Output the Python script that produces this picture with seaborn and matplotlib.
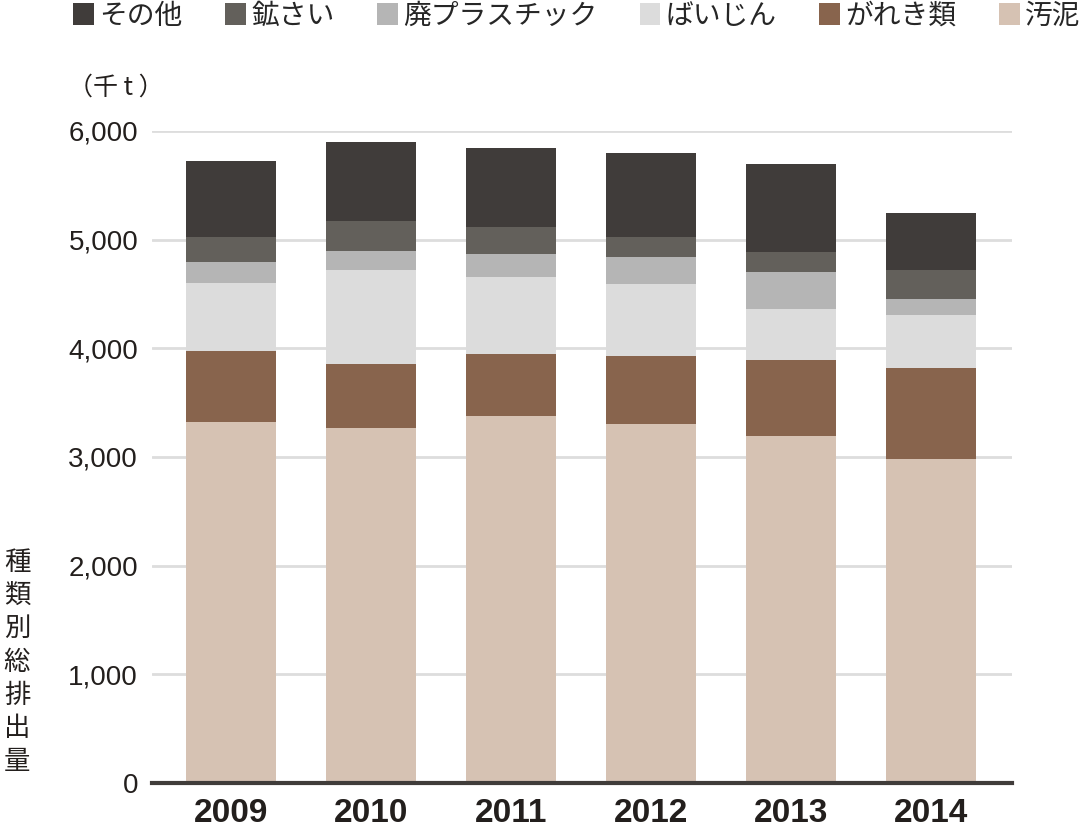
import matplotlib
matplotlib.use("Agg")
import matplotlib.pyplot as plt
from matplotlib.patches import Patch
import seaborn as sns
import pandas as pd
import numpy as np
from matplotlib import font_manager

years = ["2009", "2010", "2011", "2012", "2013", "2014"]
categories = ["その他", "鉱さい", "廃プラスチック", "ばいじん", "がれき類", "汚泥"]
sludge = [3318, 3266, 3376, 3300, 3189, 2978]      # 汚泥
rubble = [656, 586, 573, 628, 705, 840]            # がれき類
ash = [626, 867, 706, 663, 464, 487]               # ばいじん
plastic = [196, 178, 209, 251, 340, 150]           # 廃プラスチック
slag = [233, 276, 254, 187, 187, 264]              # 鉱さい
other = [696, 730, 730, 764, 809, 531]             # その他
yticks = [0, 1000, 2000, 3000, 4000, 5000, 6000]
ytick_labels = ["0", "1,000", "2,000", "3,000", "4,000", "5,000", "6,000"]

colors = {
    "その他": "#403c3a",
    "鉱さい": "#63605b",
    "廃プラスチック": "#b5b5b5",
    "ばいじん": "#dcdcdc",
    "がれき類": "#88644d",
    "汚泥": "#d6c2b3",
}

sns.set_theme(style="white")
names = {f.name for f in font_manager.fontManager.ttflist}
narrow = "Liberation Sans Narrow" if "Liberation Sans Narrow" in names else "Liberation Sans"
jp = ["Noto Sans CJK JP", "DejaVu Sans"]
plt.rcParams["font.family"] = jp

fig = plt.figure(figsize=(10.83, 8.31), dpi=100)
ax = fig.add_axes([152 / 1083, (831 - 783) / 831, 860 / 1083, (783 - 131) / 831])

# stacked order bottom -> top
layers = [("汚泥", sludge), ("がれき類", rubble), ("ばいじん", ash),
          ("廃プラスチック", plastic), ("鉱さい", slag), ("その他", other)]
cum = np.zeros(len(years))
cums = []
for name, vals in layers:
    cum = cum + np.array(vals)
    cums.append((name, cum.copy()))

# draw from tallest to shortest so each layer shows
for name, tot in reversed(cums):
    df = pd.DataFrame({"year": years, "value": tot})
    sns.barplot(data=df, x="year", y="value", color=colors[name], width=0.643,
                linewidth=0, saturation=1, ax=ax, zorder=3)

ax.set_xlim(-0.564, 5.579)
ax.set_ylim(0, 6000)
ax.set_yticks(yticks)
ax.set_yticklabels(ytick_labels, fontfamily=narrow, fontsize=20, color="#231f1d")
ax.grid(axis="y", color="#dddddd", linewidth=2, zorder=0)
ax.grid(axis="x", visible=False)
ax.set_axisbelow(True)
for t in ax.get_xticklabels():
    t.set_fontfamily(narrow)
    t.set_fontweight("bold")
    t.set_fontsize(24)
    t.set_color("#231f1d")
ax.tick_params(axis="y", length=0, pad=10)
ax.tick_params(axis="x", length=0, pad=11)
ax.set_xlabel("")
ax.set_ylabel("")
for s in ["top", "right", "left"]:
    ax.spines[s].set_visible(False)
ax.spines["bottom"].set_color("#403c3a")
ax.spines["bottom"].set_linewidth(3)
ax.spines["bottom"].set_zorder(5)

handles = [Patch(facecolor=colors[c], edgecolor="none", label=c) for c in categories]
fig.legend(handles=handles, loc="upper left", bbox_to_anchor=(73 / 1083, 1 - 1 / 831),
           ncol=6, frameon=False, handlelength=0.75, handleheight=0.85,
           handletextpad=0.2, columnspacing=1.52, borderpad=0, borderaxespad=0,
           prop={"family": jp, "size": 20})

fig.text(68 / 1083, 1 - 88 / 831, "（千 t ）", fontsize=18, color="#231f1d",
         va="center", ha="left", family=jp)
fig.text(17 / 1083, 1 - 662 / 831, "\n".join("種類別総排出量"), fontsize=19,
         color="#231f1d", va="center", ha="center", linespacing=1.3, family=jp)

fig.savefig("out.png", dpi=100)
